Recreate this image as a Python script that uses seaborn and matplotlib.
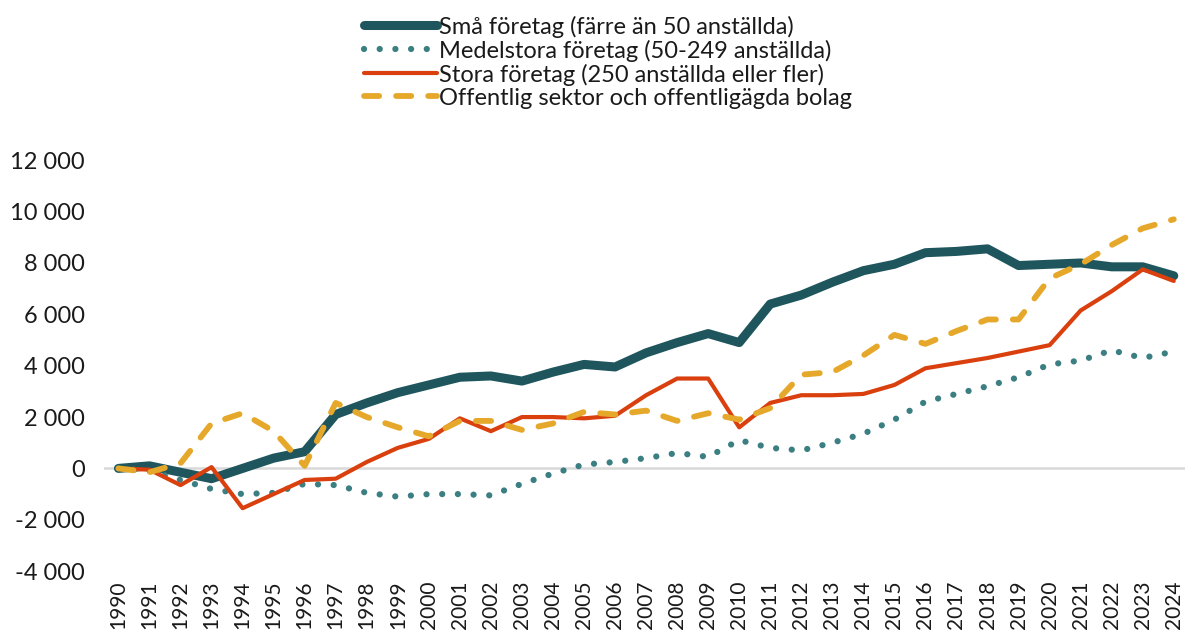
import numpy as np
import pandas as pd
import matplotlib.pyplot as plt
import seaborn as sns

# Data
years = list(range(1990, 2025))

small = [0, 100, -150, -400, 0, 400, 650, 2100, 2550, 2950, 3250, 3550, 3600, 3400,
         3750, 4050, 3950, 4500, 4900, 5250, 4900, 6400, 6750, 7250, 7700, 7950, 8400,
         8450, 8550, 7900, 7950, 8000, 7850, 7850, 7500]
medium = [0, -100, -450, -800, -1000, -950, -600, -650, -950, -1100, -1000, -1000, -1050,
          -600, -200, 150, 250, 400, 600, 450, 1100, 800, 700, 1000, 1350, 1900, 2600,
          2900, 3200, 3550, 4050, 4200, 4600, 4300, 4550]
large = [0, -50, -650, 50, -1550, -1000, -450, -400, 250, 800, 1150, 1950, 1450, 2000,
         2000, 1950, 2050, 2850, 3500, 3500, 1600, 2550, 2850, 2850, 2900, 3250, 3900,
         4100, 4300, 4550, 4800, 6150, 6900, 7750, 7300]
public = [0, -150, 200, 1750, 2150, 1450, 100, 2550, 2000, 1600, 1250, 1850, 1850, 1500,
          1750, 2200, 2100, 2250, 1850, 2150, 1900, 2350, 3650, 3750, 4400, 5200, 4850,
          5350, 5800, 5800, 7400, 7950, 8700, 9350, 9700]

labels = ["Små företag (färre än 50 anställda)",
          "Medelstora företag (50-249 anställda)",
          "Stora företag (250 anställda eller fler)",
          "Offentlig sektor och offentligägda bolag"]
colors = ["#1f565e", "#3b7f82", "#d9400e", "#e6a82a"]
yticks = [-4000, -2000, 0, 2000, 4000, 6000, 8000, 10000, 12000]

sns.set_style("white")
plt.rcParams['font.family'] = ['Lato', 'DejaVu Sans']

fig = plt.figure(figsize=(11.87, 6.41), dpi=100)
ax = fig.add_axes([0.088, 0.109, 0.91, 0.641])

# zero line
ax.axhline(0, color="#d9d9d9", lw=1.8, zorder=0)

styles = [
    dict(lw=6.5, linestyle="-", solid_capstyle="round"),
    dict(lw=4.5, linestyle=(0, (0.01, 2.5)), dash_capstyle="round"),
    dict(lw=3.0, linestyle="-", solid_capstyle="round"),
    dict(lw=4.2, linestyle=(0, (2.6, 2.9)), dash_capstyle="round"),
]
series = [small, medium, large, public]
for vals, lab, col, st in zip(series, labels, colors, styles):
    sns.lineplot(x=years, y=vals, ax=ax, color=col, label=lab, **st)

ax.set_xlim(1989.55, 2024.35)
ax.set_ylim(-4000, 12000)
ax.set_yticks(yticks)
ax.set_yticklabels([f"{v:,}".replace(",", " ") for v in yticks], fontsize=17,
                   color="#1a1a1a")
ax.set_xticks(years)
ax.set_xticklabels([str(y) for y in years], rotation=90, fontsize=15,
                   color="#1a1a1a")
ax.tick_params(axis="y", length=0, pad=14)
ax.tick_params(axis="x", length=0, pad=7)
for s in ax.spines.values():
    s.set_visible(False)

leg = ax.legend(loc="upper center", bbox_to_anchor=(0.466, 1.375), frameon=False,
                fontsize=17, handlelength=3.1, handletextpad=0.1, labelspacing=0.08,
                borderaxespad=0)
for t in leg.get_texts():
    t.set_color("#1a1a1a")

fig.savefig("out.png", dpi=100)
